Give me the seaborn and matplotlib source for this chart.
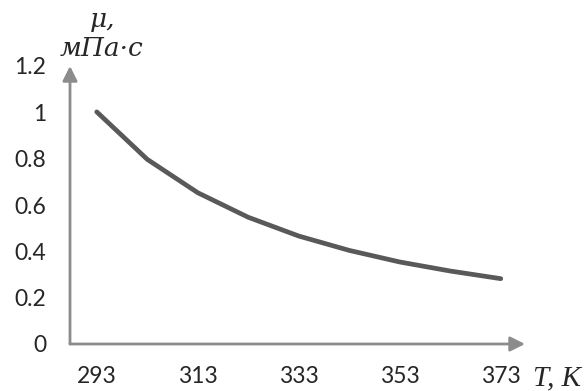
import matplotlib
matplotlib.use("Agg")
import matplotlib.pyplot as plt
import pandas as pd
import seaborn as sns

# water viscosity vs temperature
temperature = [293, 303, 313, 323, 333, 343, 353, 363, 373]
viscosity = [1.002, 0.797, 0.653, 0.547, 0.466, 0.404, 0.354, 0.315, 0.282]
x_ticks = [293, 313, 333, 353, 373]
y_ticks = [0, 0.2, 0.4, 0.6, 0.8, 1.0, 1.2]
y_tick_labels = ["0", "0.2", "0.4", "0.6", "0.8", "1", "1.2"]

sns.set_style("white")
plt.rcParams["font.family"] = ["Lato", "DejaVu Sans"]

df = pd.DataFrame({"T": temperature, "mu": viscosity})

W, H = 585, 391
fig = plt.figure(figsize=(W / 100, H / 100), dpi=100)
ax = fig.add_axes([70 / W, (H - 344) / H, 455 / W, 278 / H])

sns.lineplot(data=df, x="T", y="mu", ax=ax, color="#595959", linewidth=3.4,
             solid_capstyle="round")

ax.set_xlim(287.7, 287.7 + 455 / 5.05)
ax.set_ylim(0, 1.2)
ax.set_xticks(x_ticks)
ax.set_yticks(y_ticks)
ax.set_yticklabels(y_tick_labels)
ax.tick_params(axis="x", length=0, pad=16, labelsize=16.5)
ax.tick_params(axis="y", length=0, pad=17, labelsize=16.5)
ax.set_xlabel("")
ax.set_ylabel("")
for s in ax.spines.values():
    s.set_visible(False)

axis_grey = "#8c8c8c"
arrow = dict(arrowstyle="-|>", color=axis_grey, lw=2, mutation_scale=22,
             shrinkA=0, shrinkB=0)
ax.annotate("", xy=(1, 0), xytext=(0, 0), xycoords="axes fraction", arrowprops=arrow)
ax.annotate("", xy=(0, 1), xytext=(0, 0), xycoords="axes fraction", arrowprops=arrow)

serif_it = dict(family=["DejaVu Serif"], style="italic")
fig.text(103 / W, 1 - 20 / H, "μ,", ha="center", va="center", fontsize=19, **serif_it)
fig.text(102 / W, 1 - 48 / H, "мПа·с", ha="center", va="center", fontsize=19, **serif_it)
fig.text(557 / W, 1 - 378 / H, "T, K", ha="center", va="center", fontsize=21,
         family=["Liberation Serif"], style="italic")

fig.savefig("out.png", dpi=100)
